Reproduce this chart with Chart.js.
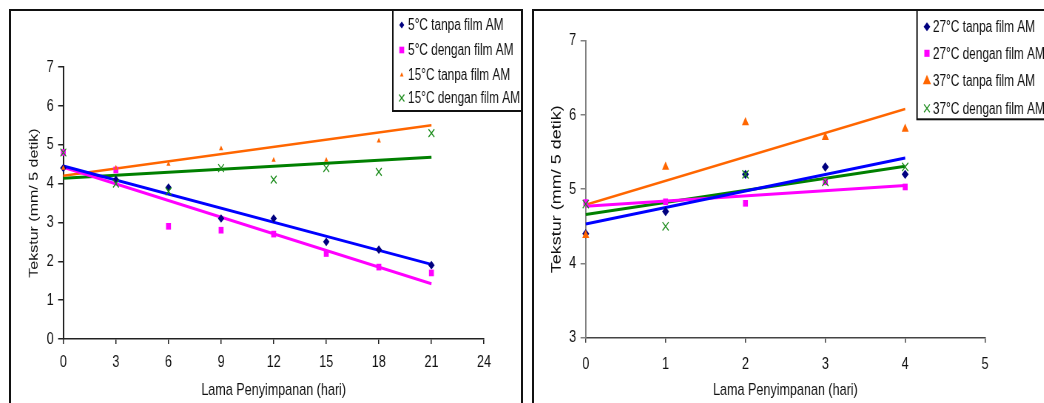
<!DOCTYPE html>
<html>
<head>
<meta charset="utf-8">
<script src="https://cdn.jsdelivr.net/npm/chart.js@4.4.1/dist/chart.umd.min.js"></script>
<style>
  html, body { margin: 0; padding: 0; background: #fff; overflow: hidden; width: 1044px; height: 403px; }
  .panel { position: absolute; border: 2px solid #111; background: #fff; overflow: hidden; }
  .panel canvas { position: absolute; left: 0; top: 0; transform-origin: 0 0; transform: scaleX(0.74); }
</style>
</head>
<body>
<div class="panel" style="left:9px; top:9px; width:510px; height:420px;"><canvas id="grafikKiri" width="690" height="400"></canvas></div>
<div class="panel" style="left:532px; top:9px; width:520px; height:420px;"><canvas id="grafikKanan" width="703" height="400"></canvas></div>
<script>
// Panel kiri: suhu 5°C dan 15°C
const hariKiri = [0, 3, 6, 9, 12, 15, 18, 21];
const t5Tanpa = [4.4, 4.1, 3.9, 3.1, 3.1, 2.5, 2.3, 1.9];
const t5Dengan = [4.8, 4.35, 2.9, 2.8, 2.7, 2.2, 1.85, 1.7];
const t15Tanpa = [4.4, 4.4, 4.5, 4.9, 4.6, 4.6, 5.1, 6.1];
const t15Dengan = [4.8, 4.0, 3.8, 4.4, 4.1, 4.4, 4.3, 5.3];
const labelKiri = ['5°C tanpa film AM', '5°C dengan film AM', '15°C tanpa film AM', '15°C dengan film AM'];

// garis tren: nilai pada hari awal dan hari akhir
const hariTrenKiri = [0, 21];
const tren5Tanpa = [4.45, 1.92];
const tren5Dengan = [4.42, 1.42];
const tren15Tanpa = [4.2, 5.5];
const tren15Dengan = [4.14, 4.68];

// Panel kanan: suhu 27°C dan 37°C
const hariKanan = [0, 1, 2, 3, 4];
const t27Tanpa = [4.4, 4.7, 5.2, 5.3, 5.2];
const t27Dengan = [4.82, 4.83, 4.81, 5.1, 5.03];
const t37Tanpa = [4.38, 5.3, 5.9, 5.7, 5.81];
const t37Dengan = [4.8, 4.5, 5.2, 5.1, 5.3];
const labelKanan = ['27°C tanpa film AM', '27°C dengan film AM', '37°C tanpa film AM', '37°C dengan film AM'];

const hariTrenKanan = [0, 4];
const tren27Tanpa = [4.53, 5.42];
const tren27Dengan = [4.77, 5.05];
const tren37Tanpa = [4.79, 6.08];
const tren37Dengan = [4.66, 5.31];

// sumbu: [min, max, langkah]
const sumbuXKiri = [0, 24, 3];
const sumbuYKiri = [0, 7, 1];
const sumbuXKanan = [0, 5, 1];
const sumbuYKanan = [3, 7, 1];

const gayaTitik = ['rectRot', 'rect', 'triangle', 'crossRot'];
const warnaTitik = ['#000080', '#ff00ff', '#ff6600', '#1c8c1c'];
const warnaTren = ['#0000ff', '#ff00ff', '#ff6600', '#008000'];

Chart.defaults.font.family = "'Liberation Sans', Arial, sans-serif";
Chart.defaults.color = '#111';

function kotakLegenda(cfg) {
  return {
    id: 'kotakLegenda',
    afterDraw(chart) {
      const ctx = chart.ctx;
      ctx.save();
      ctx.fillStyle = '#fff';
      ctx.fillRect(cfg.x, cfg.y, cfg.w, cfg.h);
      ctx.strokeStyle = '#111';
      ctx.lineWidth = 2;
      ctx.strokeRect(cfg.x, cfg.y, cfg.w, cfg.h);
      ctx.font = cfg.font + "px 'Liberation Sans', Arial, sans-serif";
      ctx.textBaseline = 'middle';
      chart.data.datasets.slice(0, 4).forEach((ds, i) => {
        const y = cfg.rows[i];
        ctx.fillStyle = ds.backgroundColor;
        ctx.strokeStyle = ds.borderColor;
        ctx.lineWidth = 1.3;
        Chart.helpers.drawPoint(ctx, {
          pointStyle: ds.pointStyle, radius: cfg.radius[i], rotation: 0,
          borderWidth: ds.pointStyle === 'crossRot' ? 1.3 : 0
        }, cfg.markX, y);
        ctx.fillStyle = '#111';
        ctx.fillText(ds.label, cfg.textX, y + 1);
      });
      ctx.restore();
    }
  };
}

function buatPanel(id, p) {
  const datasets = [];
  // titik: seri berikutnya tergambar di atas seri sebelumnya
  p.seri.forEach((s, i) => datasets.push({
    type: 'scatter',
    label: p.label[i],
    data: p.hari.map((x, j) => ({ x: x, y: s[j] })),
    pointStyle: gayaTitik[i],
    pointRadius: p.radius[i],
    pointHoverRadius: p.radius[i],
    backgroundColor: warnaTitik[i],
    borderColor: warnaTitik[i],
    borderWidth: i === 3 ? 1.3 : 0,
    showLine: false,
    clip: false,
    order: 4 - i
  }));
  p.tren.forEach((t, i) => datasets.push({
    type: 'line',
    data: p.hariTren.map((x, j) => ({ x: x, y: t[j] })),
    borderColor: warnaTren[i],
    borderWidth: p.tebal[i],
    pointRadius: 0,
    fill: false,
    clip: false,
    order: 10
  }));

  new Chart(document.getElementById(id), {
    type: 'scatter',
    data: { datasets: datasets },
    options: {
      responsive: false,
      animation: false,
      devicePixelRatio: 1,
      layout: { padding: { left: 0, top: p.top, right: p.right, bottom: p.bottom } },
      plugins: { legend: { display: false }, tooltip: { enabled: false } },
      scales: {
        x: {
          type: 'linear',
          min: p.sx[0], max: p.sx[1],
          ticks: { stepSize: p.sx[2], padding: p.xPad, font: { size: 17 }, color: '#111', maxRotation: 0, autoSkip: false },
          grid: { drawOnChartArea: false, tickLength: 5, color: p.warnaX, lineWidth: 1.5 },
          border: { color: p.warnaX, width: 1.5 },
          title: { display: true, text: 'Lama Penyimpanan (hari)', font: { size: 17 }, color: '#111', padding: { top: 0, bottom: p.xTitle } },
          afterFit: s => { s.height = 70; }
        },
        y: {
          min: p.sy[0], max: p.sy[1],
          ticks: { stepSize: p.sy[2], padding: 6, font: { size: 17 }, color: '#111' },
          grid: { drawOnChartArea: false, tickLength: 7, color: p.warnaY, lineWidth: 1.5 },
          border: { color: p.warnaY, width: 2 },
          title: { display: true, text: 'Tekstur (mm/ 5 detik)', font: { size: p.yFont }, color: '#111', padding: { top: p.yTitle, bottom: 0 } },
          afterFit: s => { s.width = p.yw; }
        }
      }
    },
    plugins: [kotakLegenda(p.legenda)]
  });
}

buatPanel('grafikKiri', {
  hari: hariKiri, seri: [t5Tanpa, t5Dengan, t15Tanpa, t15Dengan], label: labelKiri,
  hariTren: hariTrenKiri, tren: [tren5Tanpa, tren5Dengan, tren15Tanpa, tren15Dengan],
  radius: [4.3, 4.7, 3.2, 5.5], tebal: [3, 3, 2.5, 3],
  sx: sumbuXKiri, sy: sumbuYKiri,
  top: 56, right: 50.8, bottom: 2, yw: 70.7,
  xPad: 8, xTitle: 8.8, yTitle: 21.5, yFont: 16,
  warnaX: '#222', warnaY: '#222',
  legenda: { x: 516, y: -2, w: 220, h: 102, rows: [14, 39, 64, 87], markX: 528, textX: 536.5, font: 16, radius: [3.4, 4.7, 2.8, 5] }
});

buatPanel('grafikKanan', {
  hari: hariKanan, seri: [t27Tanpa, t27Dengan, t37Tanpa, t37Dengan], label: labelKanan,
  hariTren: hariTrenKanan, tren: [tren27Tanpa, tren27Dengan, tren37Tanpa, tren37Dengan],
  radius: [4.7, 4.7, 5.5, 5.9], tebal: [3, 3, 2.5, 3],
  sx: sumbuXKanan, sy: sumbuYKanan,
  top: 29.7, right: 93.5, bottom: 3.3, yw: 69.9,
  xPad: 11, xTitle: 7.5, yTitle: 20.5, yFont: 18,
  warnaX: '#444', warnaY: '#808080',
  legenda: { x: 517.6, y: -2, w: 220, h: 110.3, rows: [15.7, 42.3, 70, 97.3], markX: 531, textX: 539, font: 16, radius: [4.5, 5, 6.3, 5.5] }
});
</script>
</body>
</html>
